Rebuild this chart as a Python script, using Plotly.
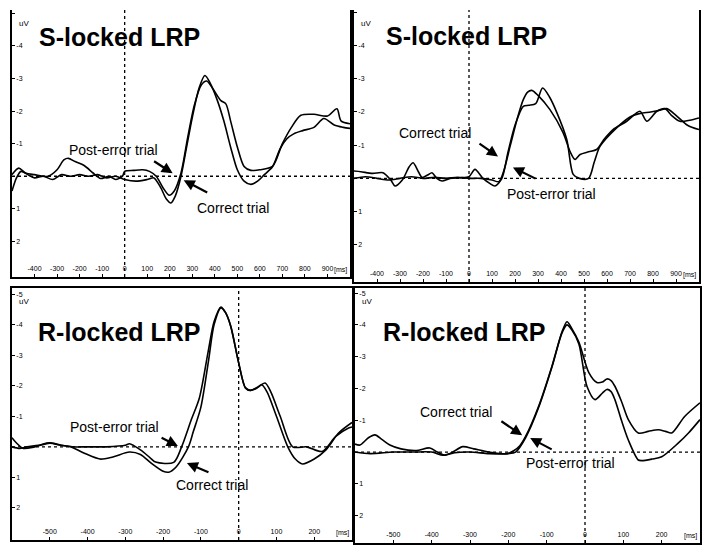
import plotly.graph_objects as go

# ---------------- data (ms, µV; negative plotted upward) ----------------
tl_correct_ms = [-500, -480, -460, -430, -400, -360, -320, -280, -240, -200, -160, -120, -80, -40, 0, 50, 100, 130, 160, 185, 205, 225, 250, 275, 300, 330, 356, 380, 410, 440, 470, 500, 530, 560, 590, 620, 656, 690, 720, 750, 790, 840, 884, 930, 970, 1000]
tl_correct_uv = [0.45, 0.05, -0.15, -0.05, 0.05, 0.0, 0.1, -0.05, 0.0, -0.05, 0.0, -0.05, 0.05, 0.0, 0.1, 0.15, 0.1, 0.05, 0.35, 0.7, 0.82, 0.6, 0.0, -0.9, -1.8, -2.7, -3.09, -2.85, -2.35, -1.7, -0.9, -0.2, 0.15, 0.25, 0.15, -0.05, -0.29, -0.85, -1.15, -1.3, -1.4, -1.5, -1.77, -1.57, -1.5, -1.47]
tl_post_ms = [-500, -470, -440, -400, -340, -300, -270, -250, -220, -180, -140, -107, -70, -40, -10, 0, 40, 80, 110, 140, 170, 197, 220, 250, 280, 310, 340, 364, 390, 427, 449, 470, 500, 530, 560, 600, 656, 700, 740, 782, 840, 900, 942, 960, 1000]
tl_post_uv = [-0.05, -0.25, -0.1, -0.05, 0.0, -0.2, -0.5, -0.55, -0.45, -0.33, -0.1, 0.07, 0.0, 0.1, 0.0, -0.15, -0.18, -0.2, -0.15, 0.0, 0.35, 0.58, 0.45, -0.1, -1.2, -2.2, -2.8, -2.92, -2.7, -2.32, -2.22, -1.7, -0.9, -0.3, -0.18, -0.2, -0.3, -1.0, -1.5, -1.87, -1.9, -1.85, -2.07, -1.7, -1.61]

tr_correct_ms = [-500, -450, -400, -350, -300, -250, -200, -150, -100, -50, 0, 50, 100, 130, 150, 180, 210, 236, 255, 273, 300, 352, 409, 440, 461, 483, 520, 555, 590, 626, 686, 743, 773, 817, 852, 880, 917, 960, 1000]
tr_correct_uv = [0.0, -0.05, 0.0, 0.05, 0.0, -0.05, 0.0, -0.03, 0.0, -0.03, 0.0, 0.0, 0.05, 0.1, -0.2, -1.0, -1.8, -2.37, -2.6, -2.65, -2.5, -2.07, -1.38, -0.8, -0.57, -0.72, -0.8, -0.87, -1.2, -1.47, -1.72, -2.02, -1.72, -2.02, -2.1, -1.9, -1.72, -1.75, -1.82]
tr_post_ms = [-500, -470, -420, -374, -340, -322, -290, -260, -243, -220, -204, -180, -161, -140, -117, -83, -40, 0, 26, 61, 90, 113, 143, 170, 200, 236, 260, 290, 320, 350, 382, 425, 453, 480, 520, 545, 570, 643, 700, 740, 790, 830, 860, 900, 950, 1000]
tr_post_uv = [-0.22, -0.2, -0.15, -0.17, 0.05, 0.23, 0.05, -0.35, -0.47, -0.2, -0.03, -0.1, -0.17, 0.0, 0.08, 0.0, -0.02, -0.05, -0.27, 0.0, 0.15, 0.23, 0.0, -0.8, -1.6, -2.17, -2.2, -2.25, -2.72, -2.45, -1.98, -1.17, -0.12, 0.0, 0.0, -0.5, -0.97, -1.53, -1.85, -1.95, -2.0, -2.05, -2.1, -1.9, -1.6, -1.47]

bl_correct_ms = [-600, -580, -560, -530, -500, -470, -445, -410, -367, -333, -289, -260, -230, -200, -185, -165, -133, -120, -100, -80, -65, -47, -35, -21, 0, 18, 31, 45, 61, 75, 100, 130, 150, 169, 200, 231, 265, 300]
bl_correct_uv = [0.0, 0.05, 0.0, -0.05, -0.13, -0.05, 0.0, 0.2, 0.4, 0.33, 0.17, 0.25, 0.55, 0.8, 0.83, 0.65, 0.0, -0.5, -1.3, -2.8, -4.0, -4.55, -4.4, -3.95, -2.75, -1.93, -1.85, -1.9, -2.03, -1.8, -1.0, 0.0, 0.4, 0.56, 0.4, 0.1, -0.46, -0.8]
bl_post_ms = [-600, -590, -570, -540, -500, -470, -440, -400, -350, -300, -289, -260, -235, -220, -172, -151, -125, -104, -81, -65, -47, -35, -21, 0, 18, 31, 50, 70, 85, 110, 143, 180, 221, 257, 291, 300]
bl_post_uv = [-0.3, -0.15, 0.05, 0.0, -0.12, -0.05, 0.0, 0.0, 0.0, -0.05, -0.1, 0.1, 0.35, 0.5, 0.51, 0.0, -0.9, -1.6, -3.1, -4.1, -4.58, -4.4, -3.95, -2.75, -1.93, -1.85, -1.95, -2.09, -1.8, -1.0, 0.0, 0.0, 0.15, -0.34, -0.62, -0.65]

br_correct_ms = [-600, -587, -565, -548, -530, -509, -480, -440, -405, -385, -366, -345, -319, -290, -250, -203, -185, -170, -155, -121, -86, -60, -47, -35, -16, 10, 31, 45, 57, 68, 78, 95, 113, 139, 165, 191, 210, 226, 260, 300]
br_correct_uv = [-0.25, -0.22, -0.45, -0.54, -0.4, -0.22, -0.1, -0.05, -0.13, 0.0, 0.1, 0.0, -0.17, -0.1, 0.0, 0.05, -0.05, -0.2, -0.49, -1.44, -2.71, -3.78, -4.1, -3.9, -3.46, -2.5, -2.19, -2.2, -2.3, -2.25, -2.07, -1.6, -1.02, -0.6, -0.65, -0.7, -0.65, -0.6, -1.12, -1.55]
br_post_ms = [-600, -560, -500, -450, -400, -370, -340, -300, -250, -200, -181, -155, -121, -86, -60, -47, -35, -16, 5, 26, 45, 57, 68, 78, 95, 113, 139, 148, 175, 200, 243, 270, 300]
br_post_uv = [0.0, 0.05, 0.0, 0.0, 0.0, 0.1, 0.02, 0.0, 0.05, 0.05, 0.0, -0.45, -1.4, -2.68, -3.75, -4.0, -3.85, -3.4, -2.07, -1.65, -1.85, -1.97, -1.9, -1.65, -1.0, -0.38, 0.25, 0.27, 0.22, 0.15, -0.28, -0.6, -1.02]

s_ticks = [-400, -300, -200, -100, 0, 100, 200, 300, 400, 500, 600, 700, 800, 900]
r_ticks = [-500, -400, -300, -200, -100, 0, 100, 200]
y_ticks = [-5, -4, -3, -2, -1, 1, 2]
panel_titles = ["S-locked LRP", "S-locked LRP", "R-locked LRP", "R-locked LRP"]

W, H = 704, 545
def px(x): return x / W
def py(y): return 1 - y / H

panels = [
    dict(xd=[12, 350], yd=[10, 277], xr=[-500, 1000], yr=[3.09, -5.1], ticks=s_ticks, title_xy=(119, 37), topline=False,
         c=(tl_correct_ms, tl_correct_uv), p=(tl_post_ms, tl_post_uv),
         pe_text=(-49, -0.8), pe_tail=(124, -0.49), pe_head=(213, -0.09),
         co_text=(480, 0.98), co_tail=(373, 0.52), co_head=(262, 0.12)),
    dict(xd=[354, 699], yd=[10, 282], xr=[-500, 1000], yr=[3.12, -5.07], ticks=s_ticks, title_xy=(466, 36), topline=False,
         c=(tr_correct_ms, tr_correct_uv), p=(tr_post_ms, tr_post_uv),
         pe_text=(357, 0.48), pe_tail=(296, 0.03), pe_head=(191, -0.33),
         co_text=(-148, -1.38), co_tail=(39, -1.08), co_head=(126, -0.66)),
    dict(xd=[12, 352], yd=[288, 540], xr=[-600, 300], yr=[3.05, -5.2], ticks=r_ticks, title_xy=(120, 332), topline=True,
         c=(bl_correct_ms, bl_correct_uv), p=(bl_post_ms, bl_post_uv),
         pe_text=(-330, -0.65), pe_tail=(-208, -0.32), pe_head=(-161, -0.03),
         co_text=(-70, 1.25), co_tail=(-76, 0.85), co_head=(-137, 0.53)),
    dict(xd=[355, 700], yd=[288, 543], xr=[-600, 300], yr=[2.86, -5.16], ticks=r_ticks, title_xy=(464, 332), topline=True,
         c=(br_correct_ms, br_correct_uv), p=(br_post_ms, br_post_uv),
         pe_text=(-37, 0.35), pe_tail=(-83, -0.06), pe_head=(-143, -0.44),
         co_text=(-337, -1.26), co_tail=(-222, -1.0), co_head=(-164, -0.53)),
]

fig = go.Figure()
layout = dict(width=W, height=H, margin=dict(l=0, r=0, t=0, b=0), paper_bgcolor="white",
              plot_bgcolor="white", showlegend=False, font=dict(family="Liberation Sans", color="black"))
annotations, shapes = [], []
tick_font = dict(family="Liberation Sans", size=7, color="black")
txt_font = dict(family="Liberation Sans", size=14, color="black")

for i, pn in enumerate(panels, start=1):
    xa = "x" if i == 1 else f"x{i}"
    ya = "y" if i == 1 else f"y{i}"
    xk = "xaxis" if i == 1 else f"xaxis{i}"
    yk = "yaxis" if i == 1 else f"yaxis{i}"
    layout[xk] = dict(domain=[px(pn["xd"][0]), px(pn["xd"][1])], range=pn["xr"], anchor=ya,
                      tickvals=pn["ticks"], ticktext=[str(t) for t in pn["ticks"]],
                      ticklabelposition="inside", ticks="inside", ticklen=3, tickcolor="black",
                      tickfont=tick_font, showgrid=False, zeroline=False,
                      showline=True, linecolor="black", linewidth=1.5,
                      mirror=pn["topline"])
    layout[yk] = dict(domain=[py(pn["yd"][1]), py(pn["yd"][0])], range=pn["yr"], anchor=xa,
                      tickvals=y_ticks, ticktext=[str(t) for t in y_ticks],
                      ticklabelposition="inside", ticks="inside", ticklen=3, tickcolor="black",
                      tickfont=tick_font, showgrid=False, zeroline=False,
                      showline=True, linecolor="black", linewidth=1.5, mirror=True)
    for (xs, ys), name in ((pn["p"], "Post-error trial"), (pn["c"], "Correct trial")):
        fig.add_trace(go.Scatter(x=xs, y=ys, mode="lines", name=name, xaxis=xa, yaxis=ya,
                                 line=dict(color="black", width=1.6, shape="spline", smoothing=0.8)))
    # dotted zero lines
    shapes.append(dict(type="line", xref=xa, yref=f"{ya} domain", x0=0, x1=0, y0=0, y1=1,
                       line=dict(color="black", width=1.3, dash="dot")))
    shapes.append(dict(type="line", xref=f"{xa} domain", yref=ya, x0=0, x1=1, y0=0, y1=0,
                       line=dict(color="black", width=1.3, dash="dot")))
    # title
    tx, ty = pn["title_xy"]
    annotations.append(dict(text="<b>" + panel_titles[i - 1] + "</b>", xref="paper", yref="paper",
                            x=px(tx), y=py(ty), showarrow=False, xanchor="center", yanchor="middle",
                            font=dict(family="Liberation Sans", size=25, color="black")))
    # uV label and [ms]
    annotations.append(dict(text="uV", xref=f"{xa} domain", yref=f"{ya} domain", x=0, y=1,
                            xanchor="left", yanchor="top", xshift=5, yshift=-7, showarrow=False,
                            font=dict(family="Liberation Sans", size=8, color="black")))
    annotations.append(dict(text="[ms]", xref=f"{xa} domain", yref=f"{ya} domain", x=1, y=0,
                            xanchor="right", yanchor="bottom", xshift=-1, yshift=1, showarrow=False,
                            font=dict(family="Liberation Sans", size=7, color="black")))
    # labels + arrows
    for key, label in (("pe", "Post-error trial"), ("co", "Correct trial")):
        annotations.append(dict(text=label, xref=xa, yref=ya, x=pn[key + "_text"][0], y=pn[key + "_text"][1],
                                showarrow=False, xanchor="center", yanchor="middle", font=txt_font))
        annotations.append(dict(text="", xref=xa, yref=ya, axref=xa, ayref=ya,
                                x=pn[key + "_head"][0], y=pn[key + "_head"][1],
                                ax=pn[key + "_tail"][0], ay=pn[key + "_tail"][1],
                                showarrow=True, arrowhead=2, arrowsize=1, arrowwidth=2.2, arrowcolor="black"))

layout["annotations"] = annotations
layout["shapes"] = shapes
fig.update_layout(**layout)
fig.write_html("out.html")
